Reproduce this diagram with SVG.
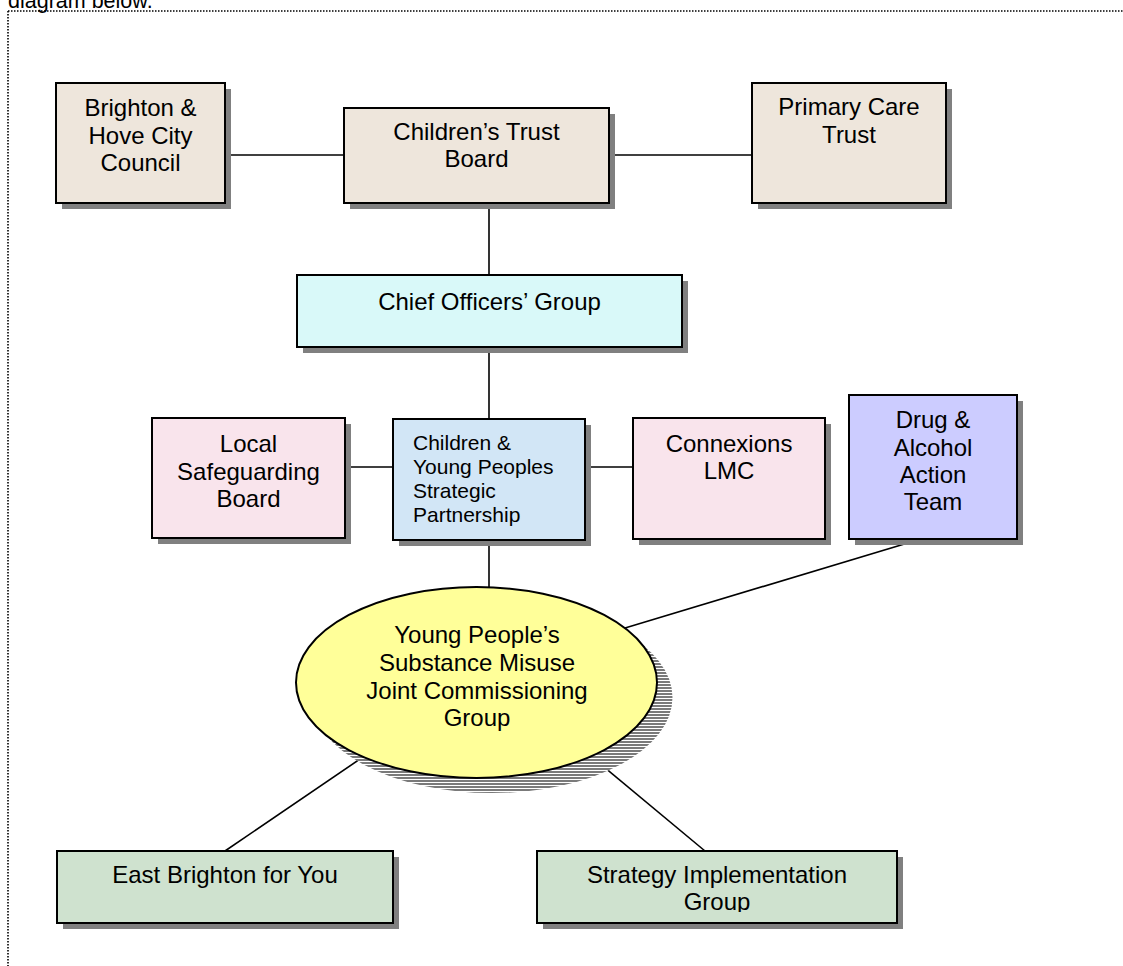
<svg xmlns="http://www.w3.org/2000/svg" width="1123" height="966" viewBox="0 0 1123 966">
<style>
.t{font-family:"Liberation Sans",Arial,sans-serif;font-size:24px;fill:#000;text-anchor:middle}
.ts{font-family:"Liberation Sans",Arial,sans-serif;font-size:21px;fill:#000}
.b{stroke:#000;stroke-width:2}
.sh{fill:#808080}
.c{stroke:#000;stroke-width:1.6;fill:none}
.beige{fill:#EEE6DC}
.cyan{fill:#D9F9F9}
.blue{fill:#D2E6F6}
.pink{fill:#F9E4EC}
.lav{fill:#CCCCFF}
.green{fill:#CFE2CF}
</style>
<defs>
<pattern id="stripes" width="4" height="3" patternUnits="userSpaceOnUse">
<rect width="4" height="3" fill="#ffffff"/>
<rect width="4" height="2" fill="#7a7a7a"/>
</pattern>
<clipPath id="clipSIG"><rect x="537" y="851" width="360" height="61"/></clipPath>
</defs>
<rect width="1123" height="966" fill="#ffffff"/>
<text x="8" y="8" style="font-family:'Liberation Sans',Arial,sans-serif;font-size:21.5px">diagram below.</text>
<g id="border" fill="none" stroke="#000" stroke-width="1.6" stroke-dasharray="1.5 1.5">
<line x1="8" y1="11" x2="1123" y2="11"/>
<line x1="8" y1="11" x2="8" y2="966"/>
</g>
<g id="connectors">
<line class="c" x1="225" y1="155" x2="344" y2="155"/>
<line class="c" x1="609" y1="155" x2="752" y2="155"/>
<line class="c" x1="489" y1="203" x2="489" y2="275"/>
<line class="c" x1="489" y1="347" x2="489" y2="419"/>
<line class="c" x1="345" y1="467" x2="393" y2="467"/>
<line class="c" x1="585" y1="467" x2="633" y2="467"/>
<line class="c" x1="489" y1="540" x2="489" y2="587"/>
<line class="c" x1="921" y1="539" x2="625" y2="628"/>
<line class="c" x1="363" y1="757" x2="225" y2="851"/>
<line class="c" x1="592" y1="757" x2="705" y2="851"/>
</g>
<g id="brighton">
<rect class="sh" x="62" y="89" width="169" height="120"/>
<rect class="b beige" x="56" y="83" width="169" height="120"/>
<text class="t" x="140.5" y="116">Brighton &amp;</text>
<text class="t" x="140.5" y="144">Hove City</text>
<text class="t" x="140.5" y="171">Council</text>
</g>
<g id="trust-board">
<rect class="sh" x="350" y="114" width="265" height="95"/>
<rect class="b beige" x="344" y="108" width="265" height="95"/>
<text class="t" x="476.5" y="140">Children’s Trust</text>
<text class="t" x="476.5" y="167">Board</text>
</g>
<g id="pct">
<rect class="sh" x="758" y="89" width="194" height="120"/>
<rect class="b beige" x="752" y="83" width="194" height="120"/>
<text class="t" x="849" y="115">Primary Care</text>
<text class="t" x="849" y="143">Trust</text>
</g>
<g id="chief-officers">
<rect class="sh" x="303" y="281" width="385" height="72"/>
<rect class="b cyan" x="297" y="275" width="385" height="72"/>
<text class="t" x="489.5" y="310">Chief Officers’ Group</text>
</g>
<g id="lsb">
<rect class="sh" x="158" y="424" width="193" height="120"/>
<rect class="b pink" x="152" y="418" width="193" height="120"/>
<text class="t" x="248.5" y="452">Local</text>
<text class="t" x="248.5" y="480">Safeguarding</text>
<text class="t" x="248.5" y="507">Board</text>
</g>
<g id="cypsp">
<rect class="sh" x="399" y="425" width="192" height="121"/>
<rect class="b blue" x="393" y="419" width="192" height="121"/>
<text class="ts" x="413" y="450">Children &amp;</text>
<text class="ts" x="413" y="474">Young Peoples</text>
<text class="ts" x="413" y="498">Strategic</text>
<text class="ts" x="413" y="522">Partnership</text>
</g>
<g id="connexions">
<rect class="sh" x="639" y="424" width="192" height="121"/>
<rect class="b pink" x="633" y="418" width="192" height="121"/>
<text class="t" x="729" y="452">Connexions</text>
<text class="t" x="729" y="479">LMC</text>
</g>
<g id="daat">
<rect class="sh" x="855" y="401" width="168" height="144"/>
<rect class="b lav" x="849" y="395" width="168" height="144"/>
<text class="t" x="933" y="428">Drug &amp;</text>
<text class="t" x="933" y="456">Alcohol</text>
<text class="t" x="933" y="483">Action</text>
<text class="t" x="933" y="510">Team</text>
</g>
<g id="ypsmjcg">
<ellipse cx="492" cy="697.5" rx="180.5" ry="95.5" fill="url(#stripes)"/>
<ellipse cx="476.5" cy="682.5" rx="180.5" ry="95.5" fill="#FFFF99" stroke="#000" stroke-width="2"/>
<text class="t" x="477" y="643">Young People’s</text>
<text class="t" x="477" y="671">Substance Misuse</text>
<text class="t" x="477" y="699">Joint Commissioning</text>
<text class="t" x="477" y="726">Group</text>
</g>
<g id="east-brighton">
<rect class="sh" x="63" y="857" width="336" height="72"/>
<rect class="b green" x="57" y="851" width="336" height="72"/>
<text class="t" x="225" y="883">East Brighton for You</text>
</g>
<g id="sig">
<rect class="sh" x="543" y="857" width="360" height="72"/>
<rect class="b green" x="537" y="851" width="360" height="72"/>
<g clip-path="url(#clipSIG)">
<text class="t" x="717" y="883">Strategy Implementation</text>
<text class="t" x="717" y="910">Group</text>
</g>
</g>
</svg>
